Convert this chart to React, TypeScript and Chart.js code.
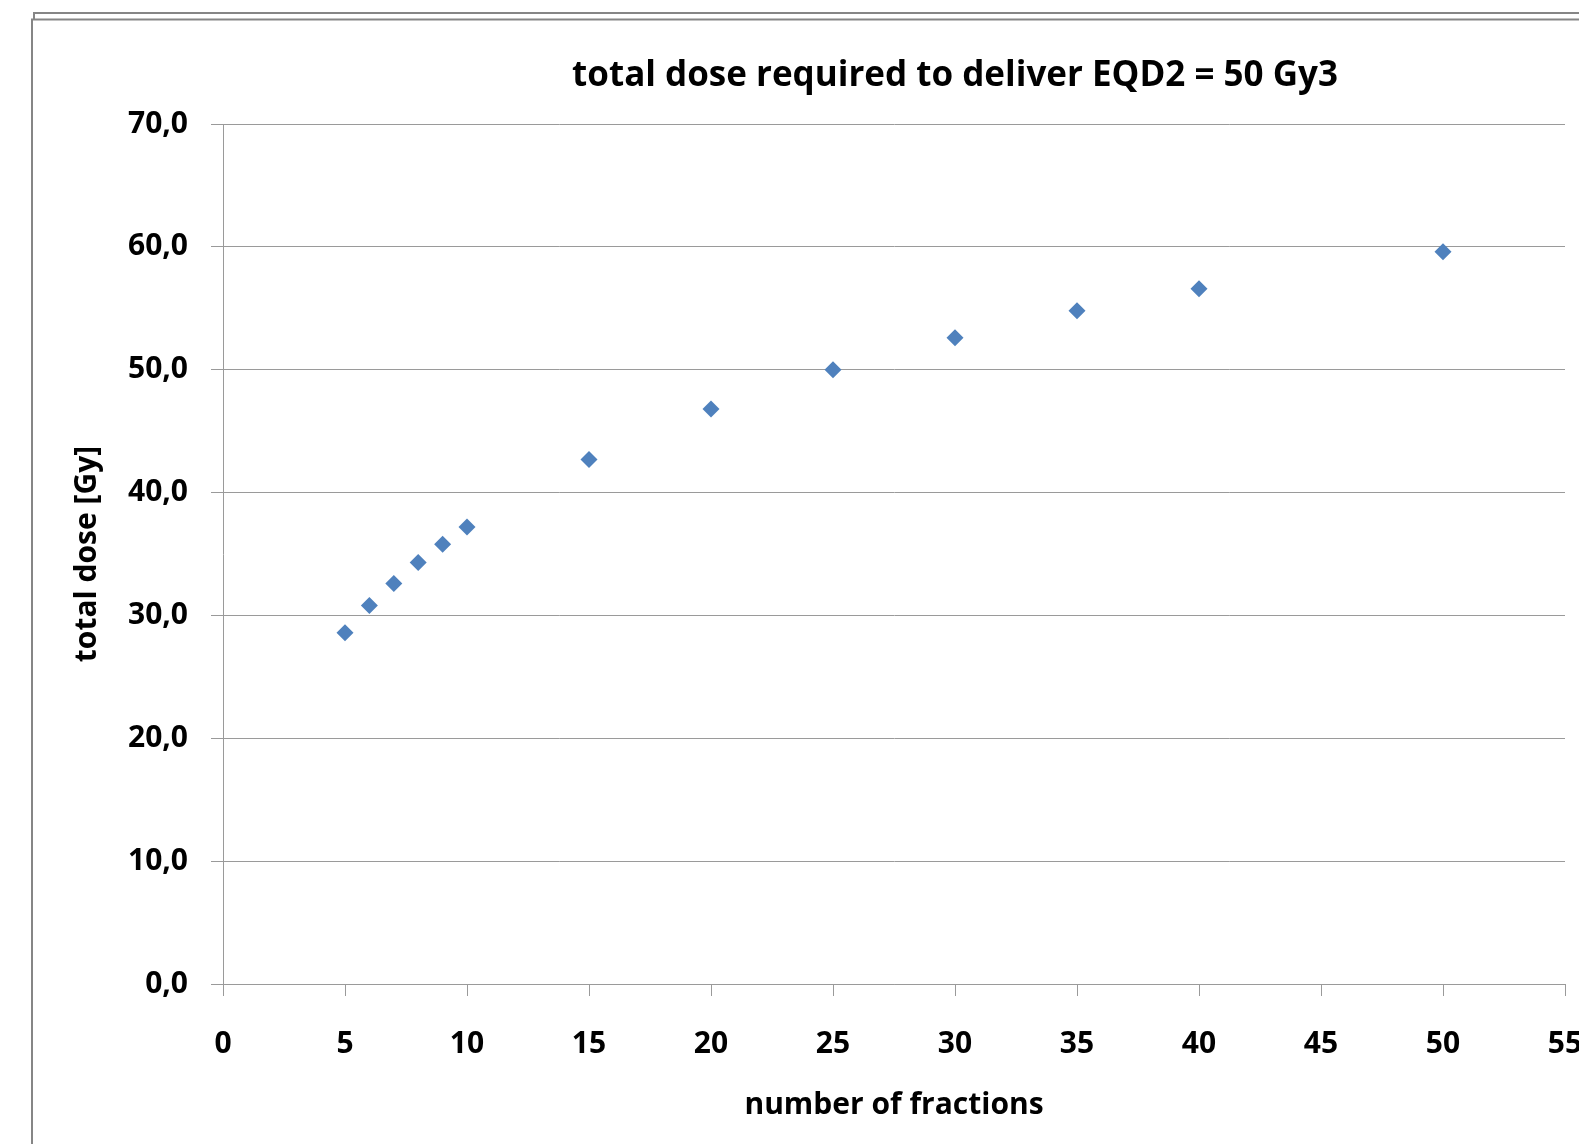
import { useEffect, useRef } from 'react';
import { Chart, registerables } from 'chart.js';

Chart.register(...registerables);

// Number of fractions and the total physical dose needed for each schedule
const fractions = [5, 6, 7, 8, 9, 10, 15, 20, 25, 30, 35, 40, 50];
const totalDose = [28.6, 30.8, 32.6, 34.3, 35.8, 37.2, 42.7, 46.8, 50.0, 52.6, 54.8, 56.6, 59.6];

const chartTitle = 'total dose required to deliver EQD2 = 50 Gy3';
const xAxisTitle = 'number of fractions';
const yAxisTitle = 'total dose [Gy]';

const FONT = '"Open Sans", "DejaVu Sans", sans-serif';
const FONT_SIZE = 30;
const TITLE_SIZE = 35;
const GRID = '#9a9a9a';
const MARKER = '#4F81BD';

// Draws the outer chart-frame border and the centred chart title.
const framePlugin = {
  id: 'frameAndTitle',
  beforeDraw(chart: any) {
    const { ctx, width, height } = chart;
    ctx.save();
    ctx.fillStyle = '#ffffff';
    ctx.fillRect(0, 0, width, height);
    ctx.strokeStyle = '#868686';
    ctx.lineWidth = 2;
    ctx.beginPath();
    // outer (shadow) edge
    ctx.moveTo(34, 20);
    ctx.lineTo(34, 13);
    ctx.lineTo(width, 13);
    // inner edge
    ctx.moveTo(32, height + 2);
    ctx.lineTo(32, 19.5);
    ctx.lineTo(width, 19.5);
    ctx.stroke();
    ctx.restore();
  },
  afterDraw(chart: any) {
    const { ctx } = chart;
    ctx.save();
    ctx.fillStyle = '#000000';
    ctx.font = `bold ${TITLE_SIZE}px ${FONT}`;
    ctx.textAlign = 'center';
    ctx.textBaseline = 'middle';
    ctx.fillText(chartTitle, 955, 76);
    ctx.restore();
  },
};

export default function App() {
  const canvasRef = useRef<HTMLCanvasElement | null>(null);

  useEffect(() => {
    if (!canvasRef.current) return;
    const font = { family: FONT, size: FONT_SIZE, weight: 'bold' as const, lineHeight: 1.2 };
    const chart = new Chart(canvasRef.current, {
      type: 'scatter',
      data: {
        datasets: [
          {
            label: yAxisTitle,
            data: fractions.map((n, i) => ({ x: n, y: totalDose[i] })),
            pointStyle: 'rectRot',
            pointRadius: 8.5,
            pointHoverRadius: 8.5,
            backgroundColor: MARKER,
            borderColor: MARKER,
            borderWidth: 0,
          },
        ],
      },
      options: {
        responsive: false,
        animation: false,
        layout: { padding: { left: 40, right: 75, top: 124, bottom: 10 } },
        plugins: {
          legend: { display: false },
          tooltip: { enabled: false },
          title: { display: false },
        },
        scales: {
          x: {
            type: 'linear',
            min: 0,
            max: 55,
            afterFit: (scale: any) => {
              scale.height = 150;
            },
            ticks: { stepSize: 5, color: '#000', font, padding: 30, maxRotation: 0 },
            grid: { drawOnChartArea: false, drawTicks: true, tickLength: 12, color: GRID, lineWidth: 1 },
            border: { display: true, color: GRID, width: 1 },
            title: { display: true, text: xAxisTitle, color: '#000', font, padding: { top: 0, bottom: 11 } },
          },
          y: {
            type: 'linear',
            min: 0,
            max: 70,
            afterFit: (scale: any) => {
              scale.width = 183;
            },
            ticks: {
              stepSize: 10,
              color: '#000',
              font,
              padding: 23,
              callback: (v: any) => Number(v).toFixed(1).replace('.', ','),
            },
            grid: { drawOnChartArea: true, drawTicks: true, tickLength: 12, color: GRID, lineWidth: 1 },
            border: { display: true, color: GRID, width: 1 },
            title: { display: true, text: yAxisTitle, color: '#000', font, padding: { top: 29, bottom: 0 } },
          },
        },
      },
      plugins: [framePlugin],
    });
    return () => chart.destroy();
  }, []);

  return (
    <div
      style={{
        position: 'fixed',
        left: 0,
        top: 0,
        width: 1579,
        height: 1144,
        overflow: 'hidden',
        background: '#fff',
      }}
    >
      <canvas ref={canvasRef} width={1640} height={1144} style={{ display: 'block' }} />
    </div>
  );
}
